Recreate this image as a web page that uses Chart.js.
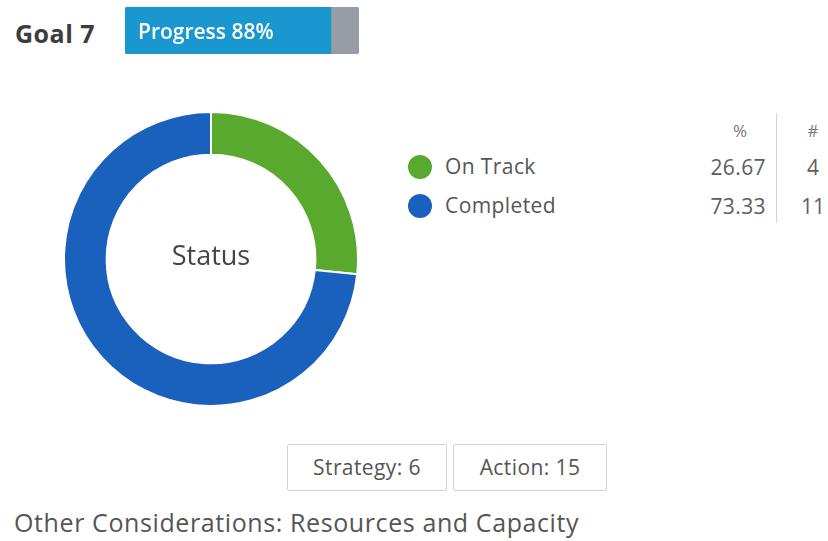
<!DOCTYPE html>
<html>
<head>
<meta charset="utf-8">
<script src="https://cdn.jsdelivr.net/npm/chart.js@4.4.1/dist/chart.umd.min.js"></script>
<style>
  html, body { margin: 0; padding: 0; background: #fff; }
  body { width: 828px; height: 541px; position: relative; overflow: hidden; font-family: "Open Sans", "Noto Sans", sans-serif; color: #444; }
  .abs { position: absolute; }
  #goal { left: 15px; top: 16px; font-size: 25px; line-height: 34px; font-weight: bold; color: #3d3d3d; letter-spacing: 0.5px; }
  #progWrap { left: 125px; top: 7px; width: 234px; height: 47px; }
  #donutWrap { left: 63px; top: 111px; width: 296px; height: 296px; }
  .legend-row { position: absolute; left: 408px; height: 30px; font-size: 21px; line-height: 30px; color: #555; }
  .dot { position: absolute; left: 0; top: 3px; width: 24px; height: 24px; border-radius: 50%; }
  .lbl { position: absolute; left: 37px; top: -1px; white-space: nowrap; letter-spacing: 0.4px; }
  .pct { position: absolute; width: 120px; left: 646px; text-align: right; font-size: 21px; line-height: 30px; color: #5e5e5e; letter-spacing: 0.4px; }
  .cnt { position: absolute; width: 40px; left: 793px; text-align: center; font-size: 21px; line-height: 30px; color: #5e5e5e; }
  .hdr { position: absolute; text-align: center; font-size: 17px; line-height: 20px; color: #777; }
  #vline { left: 776px; top: 113px; width: 1px; height: 110px; background: #cfd3e2; }
  .btn { position: absolute; top: 444px; height: 45px; border: 1px solid #cdd2e3; border-radius: 2px; font-size: 21px; color: #555; text-align: center; line-height: 45px; box-sizing: content-box; letter-spacing: 0.4px; }
  #other { left: 14px; top: 504px; font-size: 25px; line-height: 36px; color: #555; white-space: nowrap; letter-spacing: 0.6px; }
</style>
</head>
<body>
<div id="goal" class="abs">Goal 7</div>
<div id="progWrap" class="abs"><canvas id="prog" width="234" height="47"></canvas></div>
<div id="donutWrap" class="abs"><canvas id="donut" width="296" height="296"></canvas></div>
<div id="legend"></div>
<div id="vline" class="abs"></div>
<div id="buttons"></div>
<div id="other" class="abs">Other Considerations: Resources and Capacity</div>

<script>
// Goal progress
const progressLabel = "Progress";
const progressDone = [88];

// Status breakdown
const statusLabels = ["On Track", "Completed"];
const statusCounts = [4, 11];
const statusColors = ["#5aa92f", "#1a61bd"];
const centerText = "Status";

// Summary boxes
const summaryLabels = ["Strategy", "Action"];
const summaryCounts = [6, 15];

const total = statusCounts.reduce((a, b) => a + b, 0);

// --- progress bar ---
new Chart(document.getElementById("prog"), {
  type: "bar",
  data: {
    labels: [""],
    datasets: [
      { data: progressDone, backgroundColor: "#1b97cf", borderWidth: 0, barPercentage: 1, categoryPercentage: 1,
        borderRadius: { topLeft: 3, bottomLeft: 3 }, borderSkipped: false },
      { data: [100 - progressDone[0]], backgroundColor: "#979ca7", borderWidth: 0, barPercentage: 1, categoryPercentage: 1,
        borderRadius: { topRight: 3, bottomRight: 3 }, borderSkipped: false }
    ]
  },
  options: {
    indexAxis: "y",
    responsive: false,
    animation: false,
    layout: { padding: 0 },
    plugins: { legend: { display: false }, tooltip: { enabled: false } },
    scales: {
      x: { stacked: true, min: 0, max: 100, display: false },
      y: { stacked: true, display: false }
    }
  },
  plugins: [{
    id: "progText",
    afterDatasetsDraw(chart) {
      const ctx = chart.ctx;
      ctx.save();
      ctx.fillStyle = "#ffffff";
      ctx.font = "600 21px 'Open Sans', 'Noto Sans', sans-serif";
      ctx.textBaseline = "middle";
      ctx.fillText(progressLabel + " " + progressDone[0] + "%", 13, chart.height / 2 + 3);
      ctx.restore();
    }
  }]
});

// --- status doughnut ---
new Chart(document.getElementById("donut"), {
  type: "doughnut",
  data: {
    labels: statusLabels,
    datasets: [{ data: statusCounts, backgroundColor: statusColors, borderColor: "#ffffff", borderWidth: 2 }]
  },
  options: {
    responsive: false,
    animation: false,
    cutout: "71%",
    layout: { padding: 0 },
    plugins: { legend: { display: false }, tooltip: { enabled: false } }
  },
  plugins: [{
    id: "centerLabel",
    afterDraw(chart) {
      const ctx = chart.ctx;
      const a = chart.chartArea;
      ctx.save();
      ctx.fillStyle = "#444";
      ctx.font = "27px 'Open Sans', 'Noto Sans', sans-serif";
      ctx.textAlign = "center";
      ctx.textBaseline = "middle";
      ctx.fillText(centerText, (a.left + a.right) / 2, (a.top + a.bottom) / 2 - 2);
      ctx.restore();
    }
  }]
});

// --- legend table ---
const legend = document.getElementById("legend");
const rowTops = [152, 191];
const hdrPct = document.createElement("div");
hdrPct.className = "hdr"; hdrPct.style.top = "121px"; hdrPct.style.left = "720px"; hdrPct.style.width = "40px";
hdrPct.textContent = "%";
legend.appendChild(hdrPct);
const hdrCnt = document.createElement("div");
hdrCnt.className = "hdr"; hdrCnt.style.top = "121px"; hdrCnt.style.left = "793px"; hdrCnt.style.width = "40px";
hdrCnt.textContent = "#";
legend.appendChild(hdrCnt);
statusLabels.forEach((name, i) => {
  const row = document.createElement("div");
  row.className = "legend-row";
  row.style.top = rowTops[i] + "px";
  row.innerHTML = '<div class="dot" style="background:' + statusColors[i] + '"></div><div class="lbl">' + name + '</div>';
  legend.appendChild(row);
  const p = document.createElement("div");
  p.className = "pct"; p.style.top = (rowTops[i]) + "px";
  p.textContent = (statusCounts[i] / total * 100).toFixed(2);
  legend.appendChild(p);
  const c = document.createElement("div");
  c.className = "cnt"; c.style.top = (rowTops[i]) + "px";
  c.textContent = statusCounts[i];
  legend.appendChild(c);
});

// --- summary boxes ---
const btnLefts = [287, 453];
const btnWidths = [158, 152];
const buttons = document.getElementById("buttons");
summaryLabels.forEach((name, i) => {
  const b = document.createElement("div");
  b.className = "btn";
  b.style.left = btnLefts[i] + "px";
  b.style.width = btnWidths[i] + "px";
  b.textContent = name + ": " + summaryCounts[i];
  buttons.appendChild(b);
});
</script>
</body>
</html>
